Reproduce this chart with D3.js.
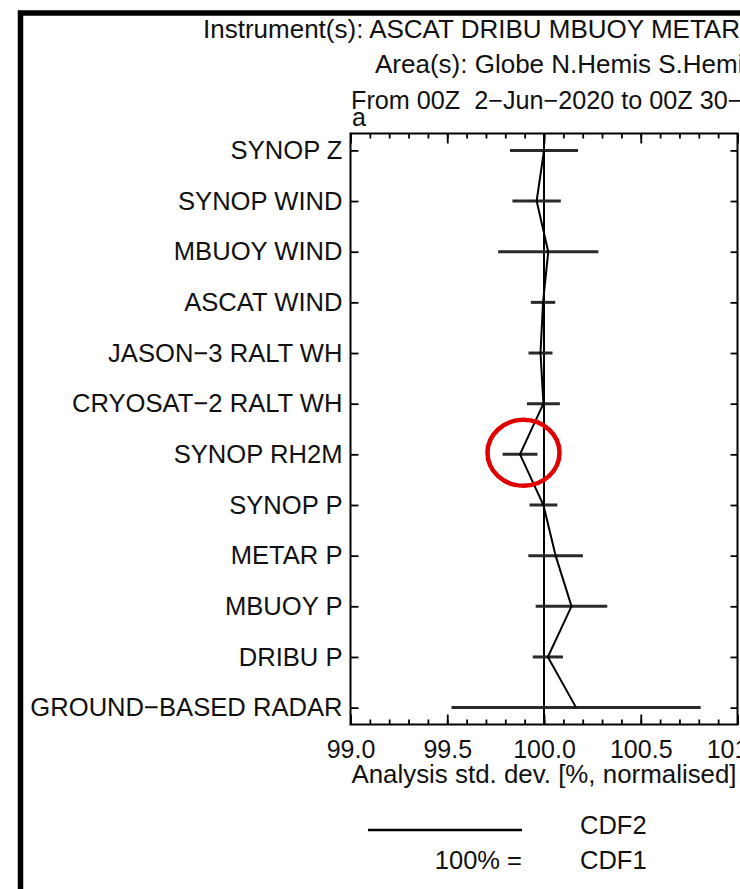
<!DOCTYPE html>
<html>
<head>
<meta charset="utf-8">
<script src="https://cdn.jsdelivr.net/npm/d3@7"></script>
<style>
  body { margin: 0; background: #fff; }
  text { font-family: "Liberation Sans", Arial, Helvetica, sans-serif; fill: #111; }
</style>
</head>
<body>
<div id="chart"></div>
<script>

// observation types, top to bottom
const categories = [
  'SYNOP Z', 'SYNOP WIND', 'MBUOY WIND', 'ASCAT WIND',
  'JASON\u22123 RALT WH', 'CRYOSAT\u22122 RALT WH', 'SYNOP RH2M',
  'SYNOP P', 'METAR P', 'MBUOY P', 'DRIBU P', 'GROUND\u2212BASED RADAR'
];

// CDF2 analysis std. dev., normalised to CDF1 = 100%
const stdDev = [100.0, 99.962, 100.022, 99.995, 99.982, 99.997,
                99.876, 99.997, 100.06, 100.142, 100.02, 100.166];

// half-width of the uncertainty bars
const errHalf = [0.176, 0.125, 0.259, 0.063, 0.062, 0.085,
                 0.09, 0.072, 0.141, 0.185, 0.078, 0.644];

const xMajorTicks = [99.0, 99.5, 100.0, 100.5, 101.0];
const xMinorTicks = d3.range(99.0, 101.05, 0.1).map(d => +d.toFixed(1));

const titleLines = [
  'Instrument(s): ASCAT DRIBU MBUOY METAR',
  'Area(s): Globe N.Hemis S.Hemis',
  'From 00Z  2\u2212Jun\u22122020 to 00Z 30\u2212Jun\u22122020',
  'a'
];

const xLabel = 'Analysis std. dev. [%, normalised]';
const legendRows = [['', 'CDF2'], ['100% =', 'CDF1']];

// the circled point
const highlight = 'SYNOP RH2M';

class StdDevChart {

  constructor(_parent) {
    this.parent = _parent;
    this.init();
  }

  init() {
    this.widthTotal = 740;
    this.heightTotal = 889;

    // plot frame
    this.left = 350.5;
    this.right = 737.5;
    this.top = 133.5;
    this.bottom = 724.5;

    this.svg = d3.select(this.parent)
        .append('svg')
        .attr('width', this.widthTotal)
        .attr('height', this.heightTotal);

    // thick page border (left and top only are visible)
    this.svg.append('path')
        .attr('d', `M20.5,${this.heightTotal} V13 H${this.widthTotal}`)
        .attr('fill', 'none')
        .attr('stroke', '#000')
        .attr('stroke-width', 5.5);

    this.createScales();
    this.addTitle();
    this.addAxes();
    this.addPoints();
    this.addLegend();
  }

  createScales() {
    this.xScale = d3.scaleLinear()
        .domain([99.0, 101.0])
        .range([this.left, this.right]);

    this.yIndex = d3.scaleLinear()
        .domain([-1 / 3, categories.length - 1 + 1 / 3])
        .range([this.top, this.bottom]);

    this.yScale = d => this.yIndex(categories.indexOf(d));
  }

  addTitle() {
    const pos = [[203, 38.3], [375, 72.7], [351, 109.3], [352, 126]];
    const size = [26, 26, 25.2, 25];
    this.svg.append('g')
      .selectAll('text')
      .data(titleLines)
      .join('text')
        .attr('x', (d, i) => pos[i][0])
        .attr('y', (d, i) => pos[i][1])
        .attr('xml:space', 'preserve')
        .style('white-space', 'pre')
        .style('font-size', (d, i) => size[i] + 'px')
        .text(d => d);
  }

  addAxes() {
    const g = this.svg.append('g');

    // reference line at 100%
    g.append('line')
        .attr('x1', this.xScale(100)).attr('x2', this.xScale(100))
        .attr('y1', this.top).attr('y2', this.bottom)
        .attr('stroke', '#000')
        .attr('stroke-width', 2);

    // minor ticks top and bottom (inward)
    const minorB = d3.axisBottom(this.xScale).tickValues(xMinorTicks)
        .tickSize(-5).tickSizeOuter(0).tickFormat('');
    const minorT = d3.axisTop(this.xScale).tickValues(xMinorTicks)
        .tickSize(-5).tickSizeOuter(0).tickFormat('');
    const majorB = d3.axisBottom(this.xScale).tickValues(xMajorTicks)
        .tickSize(-10).tickSizeOuter(0).tickPadding(16)
        .tickFormat(d3.format('.1f'));
    const majorT = d3.axisTop(this.xScale).tickValues(xMajorTicks)
        .tickSize(-10).tickSizeOuter(0).tickFormat('');

    [[minorB, this.bottom], [majorB, this.bottom], [minorT, this.top], [majorT, this.top]]
      .forEach(([ax, y]) => {
        g.append('g')
            .attr('transform', `translate(0, ${y})`)
            .call(ax);
      });

    // category axes left and right
    const yAxisL = g.append('g')
        .attr('transform', `translate(${this.left}, 0)`)
        .call(d3.axisLeft(this.yIndex)
            .tickValues(d3.range(categories.length))
            .tickSize(-8).tickSizeOuter(0).tickPadding(8)
            .tickFormat(i => categories[i]));

    g.append('g')
        .attr('transform', `translate(${this.right}, 0)`)
        .call(d3.axisRight(this.yIndex)
            .tickValues(d3.range(categories.length))
            .tickSize(-7).tickSizeOuter(0).tickFormat(''));

    g.selectAll('.tick line').attr('stroke', '#000').attr('stroke-width', 1.8);
    g.selectAll('.domain').remove();
    g.selectAll('.tick text')
        .attr('fill', '#111')
        .style('font-family', '"Liberation Sans", Arial, sans-serif')
        .style('font-size', '25px');
    yAxisL.selectAll('.tick text').style('font-size', '25.6px');

    // frame
    g.append('rect')
        .attr('x', this.left).attr('y', this.top)
        .attr('width', this.right - this.left)
        .attr('height', this.bottom - this.top)
        .attr('fill', 'none')
        .attr('stroke', '#000')
        .attr('stroke-width', 2);

    this.svg.append('text')
        .attr('x', (this.left + this.right) / 2)
        .attr('y', 783)
        .attr('text-anchor', 'middle')
        .style('font-size', '25.9px')
        .text(xLabel);
  }

  addPoints() {
    const data = categories.map((c, i) => ({ cat: c, v: stdDev[i], e: errHalf[i] }));
    const g = this.svg.append('g');

    g.selectAll('line.err')
      .data(data)
      .join('line')
        .attr('class', 'err')
        .attr('x1', d => this.xScale(d.v - d.e))
        .attr('x2', d => this.xScale(d.v + d.e))
        .attr('y1', d => this.yScale(d.cat))
        .attr('y2', d => this.yScale(d.cat))
        .attr('stroke', '#2a2a2a')
        .attr('stroke-width', 3);

    const line = d3.line()
        .x(d => this.xScale(d.v))
        .y(d => this.yScale(d.cat));

    g.append('path')
        .datum(data)
        .attr('d', line)
        .attr('fill', 'none')
        .attr('stroke', '#000')
        .attr('stroke-width', 2);

    // red ring round the highlighted point
    const h = data.find(d => d.cat === highlight);
    g.append('ellipse')
        .attr('cx', this.xScale(h.v) + 3.5)
        .attr('cy', this.yScale(h.cat) - 1.5)
        .attr('rx', 36)
        .attr('ry', 33)
        .attr('fill', 'none')
        .attr('stroke', '#e00000')
        .attr('stroke-width', 4.5);
  }

  addLegend() {
    const g = this.svg.append('g');
    const rowY = [834, 869];

    g.append('line')
        .attr('x1', 368).attr('x2', 522)
        .attr('y1', 830).attr('y2', 830)
        .attr('stroke', '#000')
        .attr('stroke-width', 2.5);

    legendRows.forEach((row, i) => {
      g.append('text')
          .attr('x', 522)
          .attr('y', rowY[i])
          .attr('text-anchor', 'end')
          .style('font-size', '25.5px')
          .text(row[0]);
      g.append('text')
          .attr('x', 580)
          .attr('y', rowY[i])
          .style('font-size', '25.5px')
          .text(row[1]);
    });
  }
}

new StdDevChart('#chart');
</script>
</body>
</html>
